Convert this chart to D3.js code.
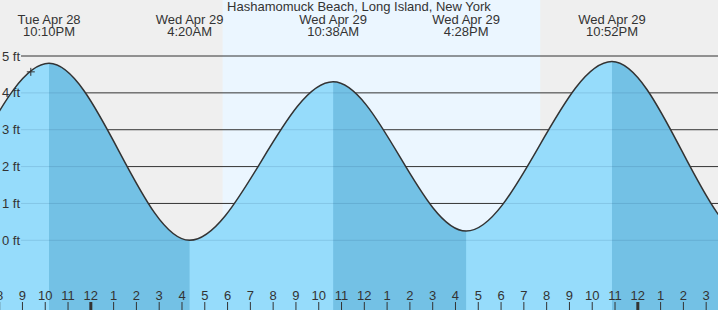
<!DOCTYPE html>
<html>
<head>
<meta charset="utf-8">
<script src="https://cdnjs.cloudflare.com/ajax/libs/d3/7.8.5/d3.min.js"></script>
<style>
  body { margin: 0; background: #fff; }
  svg { display: block; font-family: Arial, "Liberation Sans", sans-serif; }
</style>
</head>
<body>
<div id="chart"></div>
<script>
// DATA
var title = "Hashamomuck Beach, Long Island, New York";

// tide turning points (local time) and heights in feet
var tideTimes = [
  new Date(2026, 3, 28, 9, 45),
  new Date(2026, 3, 28, 15, 55),
  new Date(2026, 3, 28, 22, 10),
  new Date(2026, 3, 29, 4, 20),
  new Date(2026, 3, 29, 10, 38),
  new Date(2026, 3, 29, 16, 28),
  new Date(2026, 3, 29, 22, 52),
  new Date(2026, 3, 30, 5, 0),
  new Date(2026, 3, 30, 11, 20)
];
var tideHeights = [4.2, 0.2, 4.8, 0.0, 4.3, 0.25, 4.85, 0.0, 4.3];

var sunTimes = [new Date(2026, 3, 29, 5, 47), new Date(2026, 3, 29, 19, 43)];
var nowPoint = { time: new Date(2026, 3, 28, 21, 22), height: 4.57 };

var footTicks = [0, 1, 2, 3, 4, 5];
var timeDomain = [new Date(2026, 3, 28, 19, 58), new Date(2026, 3, 30, 3, 34)];

// SETUP
(function () {
  var width = 718, height = 310;

  var tides = tideTimes.map(function (t, i) {
    return { time: t, height: tideHeights[i] };
  });

  var x = d3.scaleTime().domain(timeDomain).range([-1.1, 719.1]);
  var y = d3.scaleLinear().domain([0, 5]).range([240.3, 56]);

  var svg = d3.select("#chart")
    .append("svg")
    .attr("width", width)
    .attr("height", height);

  var defs = svg.append("defs");

  // background: night grey, daylight pale blue
  svg.append("rect")
    .attr("width", width)
    .attr("height", height)
    .attr("fill", "#efefef");

  svg.append("rect")
    .attr("x", x(sunTimes[0]))
    .attr("width", x(sunTimes[1]) - x(sunTimes[0]))
    .attr("height", height)
    .attr("fill", "#ebf6ff");

  // grid lines above water
  svg.append("g").selectAll("line")
    .data(footTicks)
    .enter().append("line")
    .attr("x1", 21)
    .attr("x2", width)
    .attr("y1", function (d) { return y(d); })
    .attr("y2", function (d) { return y(d); })
    .attr("stroke", "#333")
    .attr("stroke-width", 1);

  // WATER
  var area = d3.area()
    .x(function (d) { return x(d.time); })
    .y0(height)
    .y1(function (d) { return y(d.height); })
    .curve(d3.curveMonotoneX);

  var line = d3.line()
    .x(function (d) { return x(d.time); })
    .y(function (d) { return y(d.height); })
    .curve(d3.curveMonotoneX);

  defs.append("clipPath")
    .attr("id", "water-clip")
    .append("path")
    .attr("d", area(tides));

  var water = svg.append("g").attr("clip-path", "url(#water-clip)");

  water.append("rect")
    .attr("width", width)
    .attr("height", height)
    .attr("fill", "#96dcfb");

  // falling tide (high -> low) drawn darker
  var falling = tides.slice(0, -1).map(function (d, i) {
    return { from: d, to: tides[i + 1] };
  }).filter(function (d) { return d.from.height > d.to.height; });

  water.selectAll(".falling")
    .data(falling)
    .enter().append("rect")
    .attr("class", "falling")
    .attr("x", function (d) { return x(d.from.time); })
    .attr("width", function (d) { return x(d.to.time) - x(d.from.time); })
    .attr("height", height)
    .attr("fill", "#73c1e5");

  water.selectAll(".grid-under")
    .data(footTicks)
    .enter().append("line")
    .attr("class", "grid-under")
    .attr("x1", 21)
    .attr("x2", width)
    .attr("y1", function (d) { return y(d); })
    .attr("y2", function (d) { return y(d); })
    .attr("stroke", "rgba(0,40,80,0.12)")
    .attr("stroke-width", 1);

  svg.append("path")
    .attr("d", line(tides))
    .attr("fill", "none")
    .attr("stroke", "#333")
    .attr("stroke-width", 1.5);

  // current time marker
  var mx = x(nowPoint.time), my = y(nowPoint.height);
  svg.append("path")
    .attr("d", "M" + (mx - 4) + "," + my + "h8M" + mx + "," + (my - 4) + "v8")
    .attr("stroke", "#333")
    .attr("stroke-width", 1);

  // y labels
  svg.append("g").selectAll("text")
    .data(footTicks)
    .enter().append("text")
    .attr("x", 2)
    .attr("y", function (d) { return y(d) + 4.5; })
    .attr("font-size", 13)
    .attr("fill", "#333")
    .text(function (d) { return d + " ft"; });

  // title
  svg.append("text")
    .attr("x", width / 2)
    .attr("y", 11)
    .attr("text-anchor", "middle")
    .attr("font-size", 13)
    .attr("fill", "#333")
    .text(title);

  // tide labels
  var dayFmt = d3.timeFormat("%a %b %d"),
    timeFmt = d3.timeFormat("%-I:%M%p");

  var shown = tides.filter(function (d) {
    return d.time >= timeDomain[0] && d.time <= timeDomain[1];
  });

  var labels = svg.append("g").selectAll("g")
    .data(shown)
    .enter().append("g")
    .attr("transform", function (d) { return "translate(" + x(d.time) + ",0)"; })
    .attr("text-anchor", "middle")
    .attr("font-size", 13)
    .attr("fill", "#333");

  labels.append("text").attr("y", 24).text(function (d) { return dayFmt(d.time); });
  labels.append("text").attr("y", 36).text(function (d) { return timeFmt(d.time); });

  // hour axis
  var hours = x.ticks(d3.timeHour.every(1)),
    hourFmt = d3.timeFormat("%-I");

  var ticks = svg.append("g").selectAll("g")
    .data(hours)
    .enter().append("g")
    .attr("transform", function (d) { return "translate(" + x(d) + ",0)"; });

  ticks.append("line")
    .attr("y1", 302)
    .attr("y2", height)
    .attr("stroke", "#333")
    .attr("stroke-width", function (d) { return d.getHours() === 0 ? 3 : 1; });

  ticks.append("text")
    .attr("y", 300)
    .attr("text-anchor", "middle")
    .attr("font-size", 13)
    .attr("fill", "#333")
    .text(function (d) { return hourFmt(d); });
})();
</script>
</body>
</html>
